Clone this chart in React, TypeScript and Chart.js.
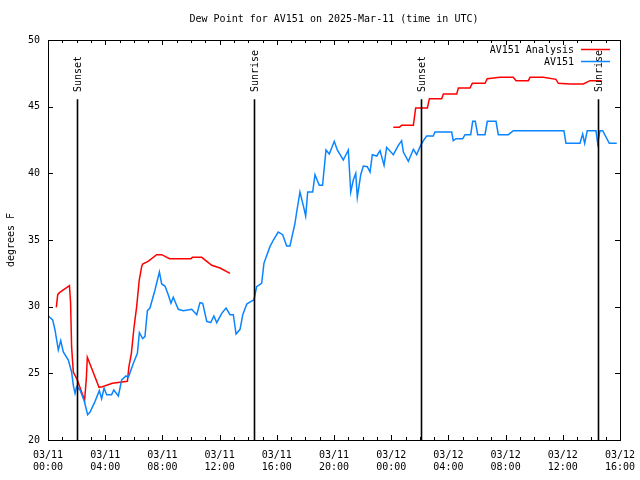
import React, { useEffect, useRef } from 'react';
import { Chart, registerables } from 'chart.js';

Chart.register(...registerables);

const FONT = '"DejaVu Sans Mono", "Liberation Mono", monospace';

const titleText = 'Dew Point for AV151 on 2025-Mar-11 (time in UTC)';
const yTitle = 'degrees F';

// x = hours since 03/11 00:00 UTC
const xTickLabels: string[][] = [
  ['03/11', '00:00'], ['03/11', '04:00'], ['03/11', '08:00'], ['03/11', '12:00'],
  ['03/11', '16:00'], ['03/11', '20:00'], ['03/12', '00:00'], ['03/12', '04:00'],
  ['03/12', '08:00'], ['03/12', '12:00'], ['03/12', '16:00'],
];

const analysisHours: number[] = [
  0.58, 0.68, 0.8, 1.2, 1.5, 1.58, 1.65, 1.77, 2.05, 2.35, 2.56, 2.68, 2.75, 3.57, 3.8,
  4.5, 5.55, 5.66, 5.83, 6.01, 6.2, 6.38, 6.55, 6.62, 7.0, 7.6, 7.95, 8.5, 10.0, 10.1,
  10.75, 11.45, 12.03, 12.73,
  18.0,
  24.15, 24.57, 24.73, 25.55, 25.71, 26.53, 26.67, 27.53, 27.65, 28.58, 28.7, 29.51,
  29.67, 30.56, 30.72, 31.61, 32.54, 32.73, 33.59, 33.71, 34.64, 35.52, 35.69, 36.5,
  37.44, 37.8, 37.9, 38.72,
];
const analysisValues: (number | null)[] = [
  29.95, 30.9, 31.05, 31.35, 31.57, 30.3, 27.0, 25.1, 24.5, 23.6, 23.0, 24.6, 26.2, 23.95, 24.0,
  24.25, 24.4, 25.5, 26.5, 28.4, 30.0, 32.0, 33.0, 33.2, 33.4, 33.9, 33.9, 33.6, 33.6, 33.7,
  33.7, 33.1, 32.9, 32.5,
  null,
  43.45, 43.45, 43.6, 43.6, 44.9, 44.9, 45.6, 45.6, 45.95, 45.95, 46.4, 46.4,
  46.75, 46.75, 47.1, 47.2, 47.2, 46.95, 46.95, 47.2, 47.2, 47.05, 46.75, 46.7,
  46.7, 46.9, 46.95, 46.95,
];

const obsHours: number[] = [
  0.02, 0.33, 0.49, 0.72, 0.89, 1.07, 1.42, 1.65, 1.77, 1.89, 2.0, 2.24, 2.54, 2.77, 2.94,
  3.29, 3.59, 3.75, 3.92, 4.1, 4.45, 4.6, 4.92, 5.15, 5.45, 5.62, 5.97, 6.25, 6.39, 6.62,
  6.78, 6.95, 7.13, 7.48, 7.79, 7.95, 8.18, 8.41, 8.6, 8.76, 9.11, 9.46, 10.05, 10.4, 10.63,
  10.82, 11.1, 11.38, 11.6, 11.8, 12.15, 12.45, 12.73, 12.96, 13.15, 13.43, 13.62, 13.9, 14.2,
  14.4, 14.59, 14.94, 15.1, 15.52, 15.76, 16.1, 16.41, 16.69, 16.92, 17.27, 17.39, 17.62,
  17.85, 18.02, 18.16, 18.51, 18.67, 18.97, 19.2, 19.44, 19.67, 20.02, 20.23, 20.65, 21.0,
  21.17, 21.35, 21.52, 21.63, 21.87, 22.05, 22.33, 22.52, 22.68, 22.99, 23.22, 23.5, 23.68,
  24.15, 24.5, 24.73, 24.85, 25.2, 25.55, 25.78, 26.06, 26.25, 26.48, 26.94, 27.06, 28.23,
  28.34, 28.53, 29.0, 29.16, 29.56, 29.7, 29.88, 30.05, 30.56, 30.72, 31.33, 31.49, 32.19,
  32.54, 36.08, 36.22, 37.2, 37.39, 37.53, 37.71, 38.32, 38.44, 38.6, 38.79, 39.25, 39.77,
];
const obsValues: number[] = [
  29.3, 29.0, 28.25, 26.75, 27.45, 26.6, 26.0, 25.1, 24.1, 23.5, 24.0, 23.75, 22.9, 21.9, 22.1,
  22.9, 23.7, 23.1, 23.9, 23.4, 23.4, 23.75, 23.3, 24.5, 24.8, 24.7, 25.75, 26.5, 28.05, 27.6,
  27.75, 29.7, 29.9, 31.25, 32.6, 31.7, 31.55, 30.9, 30.25, 30.7, 29.8, 29.7, 29.8, 29.4, 30.3,
  30.25, 28.9, 28.8, 29.3, 28.8, 29.5, 29.9, 29.4, 29.4, 27.95, 28.3, 29.4, 30.2, 30.4,
  30.5, 31.5, 31.75, 33.25, 34.5, 35.0, 35.6, 35.4, 34.55, 34.55, 36.25, 37.1, 38.6,
  37.6, 36.8, 38.6, 38.6, 39.9, 39.1, 39.1, 41.75, 41.45, 42.4, 41.75, 41.0, 41.75,
  38.6, 39.5, 40.0, 38.2, 39.9, 40.55, 40.5, 40.1, 41.4, 41.3, 41.7, 40.6, 41.95,
  41.4, 42.1, 42.45, 41.6, 40.9, 41.8, 41.4, 42.1, 42.45, 42.8, 42.8, 43.1, 43.1,
  42.45, 42.6, 42.6, 42.9, 42.9, 43.9, 43.9, 42.9, 42.9, 43.9, 43.9, 42.9, 42.9,
  43.2, 43.2, 42.25, 42.25, 42.95, 42.25, 43.2, 43.2, 42.25, 43.2, 43.2, 42.25, 42.25,
];

const eventHours: number[] = [2.0, 14.43, 26.08, 38.47];
const eventLabels: string[] = ['Sunset', 'Sunrise', 'Sunset', 'Sunrise'];
const eventLineTop = 45.55;
const eventLabelStart = 46.1;

const seriesNames = ['AV151 Analysis', 'AV151'];
const seriesColors = ['#ff0000', '#0a84ff'];

const overlayPlugin = {
  id: 'gnuplotOverlay',
  afterDatasetsDraw(chart: any) {
    const { ctx, chartArea: a, scales } = chart;
    const x = scales.x;
    const y = scales.y;
    ctx.save();
    ctx.strokeStyle = '#000';
    ctx.lineWidth = 1;
    const seg = (x1: number, y1: number, x2: number, y2: number) => {
      ctx.beginPath();
      ctx.moveTo(x1, y1);
      ctx.lineTo(x2, y2);
      ctx.stroke();
    };
    // title centred over the plot area
    ctx.font = `10px ${FONT}`;
    ctx.fillStyle = '#000';
    ctx.textAlign = 'center';
    ctx.textBaseline = 'middle';
    ctx.fillText(titleText, (a.left + a.right) / 2, 19);

    // x ticks (inward, mirrored)
    x.ticks.forEach((t: any) => {
      const px = Math.round(x.getPixelForValue(t.value)) + 0.5;
      const len = t.value % 4 === 0 ? 5 : 3;
      seg(px, a.bottom, px, a.bottom - len);
      seg(px, a.top, px, a.top + len);
    });
    // y ticks
    y.ticks.forEach((t: any) => {
      const py = Math.round(y.getPixelForValue(t.value)) + 0.5;
      seg(a.left, py, a.left + 5, py);
      seg(a.right, py, a.right - 5, py);
    });
    // frame
    ctx.strokeRect(Math.round(a.left) + 0.5, Math.round(a.top) + 0.5,
      Math.round(a.right - a.left), Math.round(a.bottom - a.top));

    // sunrise / sunset lines
    ctx.lineWidth = 1.6;
    eventHours.forEach((h, i) => {
      const px = Math.round(x.getPixelForValue(h)) + 0.5;
      seg(px, y.getPixelForValue(eventLineTop), px, y.getPixelForValue(20));
      ctx.save();
      ctx.translate(px + 1, y.getPixelForValue(eventLabelStart));
      ctx.rotate(-Math.PI / 2);
      ctx.textAlign = 'left';
      ctx.textBaseline = 'middle';
      ctx.fillText(eventLabels[i], 0, 0);
      ctx.restore();
    });

    // legend (gnuplot style, top right inside)
    ctx.textAlign = 'right';
    ctx.textBaseline = 'middle';
    seriesNames.forEach((name, i) => {
      const ty = a.top + 10.5 + i * 12;
      ctx.fillStyle = '#000';
      ctx.fillText(name, a.right - 46, ty);
      ctx.strokeStyle = seriesColors[i];
      ctx.lineWidth = 1.5;
      seg(a.right - 39, ty - 1, a.right - 10, ty - 1);
    });
    ctx.restore();
  },
};

export default function App() {
  const ref = useRef<HTMLCanvasElement>(null);
  useEffect(() => {
    if (!ref.current) return;
    const analysis = analysisHours.map((h, i) => ({ x: h, y: analysisValues[i] }));
    const obs = obsHours.map((h, i) => ({ x: h, y: obsValues[i] }));
    const chart = new Chart(ref.current, {
      type: 'line',
      data: {
        datasets: [
          {
            label: seriesNames[0],
            data: analysis as any,
            borderColor: seriesColors[0],
            borderWidth: 1.5,
            pointRadius: 0,
            spanGaps: false,
            tension: 0,
            order: 2,
          },
          {
            label: seriesNames[1],
            data: obs as any,
            borderColor: seriesColors[1],
            borderWidth: 1.5,
            pointRadius: 0,
            tension: 0,
            order: 1,
          },
        ],
      },
      options: {
        animation: false,
        responsive: false,
        devicePixelRatio: 1,
        layout: { padding: { left: 0, right: 20, top: 40, bottom: 0 } },
        plugins: {
          legend: { display: false },
          tooltip: { enabled: false },
          title: { display: false },
        },
        scales: {
          x: {
            type: 'linear',
            min: 0,
            max: 40,
            grid: { display: false, drawTicks: false },
            border: { display: false },
            afterFit: (s: any) => { s.height = 40; s.paddingLeft = 0; s.paddingRight = 0; },
            ticks: {
              stepSize: 1,
              autoSkip: false,
              maxRotation: 0,
              minRotation: 0,
              padding: 9,
              color: '#000',
              font: { family: FONT, size: 10, lineHeight: 1.2 },
              callback: (v: any) => (Number(v) % 4 === 0 ? xTickLabels[Number(v) / 4] : ''),
            },
          },
          y: {
            type: 'linear',
            min: 20,
            max: 50,
            grid: { display: false, drawTicks: false },
            border: { display: false },
            afterFit: (s: any) => { s.width = 48; s.paddingTop = 0; s.paddingBottom = 0; },
            title: {
              display: true,
              text: yTitle,
              color: '#000',
              font: { family: FONT, size: 10, lineHeight: 1.2 },
              padding: { top: 5, bottom: 0 },
            },
            ticks: {
              stepSize: 5,
              padding: 8,
              color: '#000',
              font: { family: FONT, size: 10, lineHeight: 1.2 },
            },
          },
        },
      },
      plugins: [overlayPlugin],
    });
    return () => chart.destroy();
  }, []);
  return (
    <div style={{ position: 'absolute', left: 0, top: 0, width: 640, height: 480, background: '#fff' }}>
      <canvas ref={ref} width={640} height={480} />
    </div>
  );
}
